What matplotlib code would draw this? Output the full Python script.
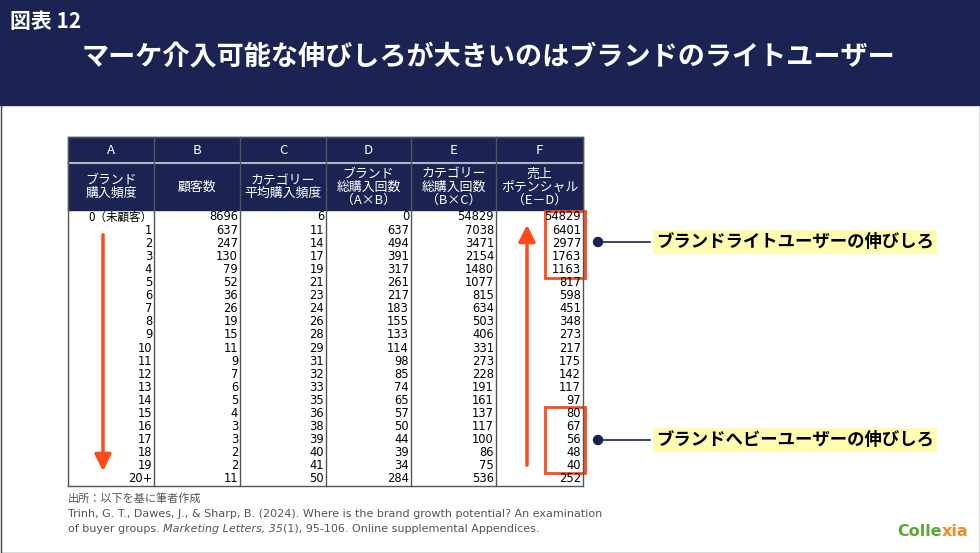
import matplotlib
matplotlib.use("Agg")
import matplotlib.pyplot as plt
from matplotlib.patches import Rectangle, Circle

plt.rcParams["font.family"] = "Noto Sans CJK JP"

col_letters = ["A", "B", "C", "D", "E", "F"]
col_headers = ["ブランド\n購入頻度", "顧客数", "カテゴリー\n平均購入頻度",
               "ブランド\n総購入回数\n（A×B）", "カテゴリー\n総購入回数\n（B×C）", "売上\nポテンシャル\n（E－D）"]
freq = ["0（未顧客）"] + [str(i) for i in range(1, 20)] + ["20+"]
customers = [8696, 637, 247, 130, 79, 52, 36, 26, 19, 15, 11, 9, 7, 6, 5, 4, 3, 3, 2, 2, 11]
cat_freq = [6, 11, 14, 17, 19, 21, 23, 24, 26, 28, 29, 31, 32, 33, 35, 36, 38, 39, 40, 41, 50]
brand_total = [0, 637, 494, 391, 317, 261, 217, 183, 155, 133, 114, 98, 85, 74, 65, 57, 50, 44, 39, 34, 284]
cat_total = [54829, 7038, 3471, 2154, 1480, 1077, 815, 634, 503, 406, 331, 273, 228, 191, 161, 137, 117, 100, 86, 75, 536]
potential = [54829, 6401, 2977, 1763, 1163, 817, 598, 451, 348, 273, 217, 175, 142, 117, 97, 80, 67, 56, 48, 40, 252]

title_tag = "図表 12"
title = "マーケ介入可能な伸びしろが大きいのはブランドのライトユーザー"
callouts = ["ブランドライトユーザーの伸びしろ", "ブランドへビーユーザーの伸びしろ"]

NAVY = "#1b2352"
RED = "#ff4a1c"
fig = plt.figure(figsize=(9.8, 5.53), dpi=100)
ax = fig.add_axes([0, 0, 1, 1])
ax.set_xlim(0, 980); ax.set_ylim(553, 0); ax.axis("off")

ax.add_patch(Rectangle((0.5, 0.5), 979, 552, fill=False, ec="#444444", lw=1))
ax.add_patch(Rectangle((0, 0), 980, 105, color=NAVY))
ax.text(10, 22, title_tag, color="white", fontsize=15, fontweight="bold", va="center")
ax.text(488, 57, title, color="white", fontsize=19.5, fontweight="bold", va="center", ha="center")

xs = [68, 154, 240, 326, 411, 496, 583]
ax.add_patch(Rectangle((xs[0], 137), xs[-1]-xs[0], 73, color=NAVY))
ax.plot([xs[0], xs[-1]], [163, 163], color="#b0b4c4", lw=1.5)
for i in range(6):
    cx = (xs[i]+xs[i+1])/2
    ax.text(cx, 151, col_letters[i], color="white", fontsize=9.5, ha="center", va="center")
    ax.text(cx, 187, col_headers[i], color="white", fontsize=9.3, ha="center", va="center", linespacing=1.0)
for x in xs:
    ax.plot([x, x], [137, 486], color="#555555", lw=1)
ax.plot([xs[0], xs[-1]], [486, 486], color="#555555", lw=1)
ax.plot([xs[0], xs[-1]], [137, 137], color="#555555", lw=1)

y0, dy = 217, 13.1
cols = [freq, customers, cat_freq, brand_total, cat_total, potential]
for r in range(len(freq)):
    y = y0 + r*dy
    for c in range(6):
        ax.text(xs[c+1]-2, y, str(cols[c][r]), fontsize=8.3, ha="right", va="center",
                fontfamily="DejaVu Sans" if c > 0 or r > 0 else "Noto Sans CJK JP")

ax.annotate("", xy=(103, 474), xytext=(103, 232),
            arrowprops=dict(arrowstyle="-|>,head_width=0.5,head_length=1.0", color=RED, lw=2.5))
ax.annotate("", xy=(527, 222), xytext=(527, 468),
            arrowprops=dict(arrowstyle="-|>,head_width=0.5,head_length=1.0", color=RED, lw=2.5))
ax.add_patch(Rectangle((545, 211), 40, 67, fill=False, ec=RED, lw=2))
ax.add_patch(Rectangle((545, 407), 40, 66, fill=False, ec=RED, lw=2))

for yc, txt in zip([242, 440], callouts):
    ax.add_patch(Circle((598, yc), 4.5, color=NAVY))
    ax.plot([598, 650], [yc, yc], color=NAVY, lw=1.2)
    ax.text(656, yc, txt, fontsize=12.5, fontweight="bold", va="center",
            bbox=dict(boxstyle="square,pad=0.15", fc="#fffbb0", ec="none"))

fs = 8
ax.text(68, 498, "出所：以下を基に筆者作成", fontsize=fs, color="#555555", va="center")
ax.text(68, 514, "Trinh, G. T., Dawes, J., & Sharp, B. (2024). Where is the brand growth potential? An examination",
        fontsize=fs, color="#555555", va="center", fontfamily="DejaVu Sans")
t1 = ax.text(68, 529, "of buyer groups. ", fontsize=fs, color="#555555", va="center", fontfamily="DejaVu Sans")
t2 = ax.annotate("Marketing Letters, 35", xy=(1, 0), xycoords=t1, va="bottom", fontsize=fs,
                 color="#555555", style="italic", fontfamily="DejaVu Sans")
ax.annotate("(1), 95-106. Online supplemental Appendices.", xy=(1, 0), xycoords=t2, va="bottom",
            fontsize=fs, color="#555555", fontfamily="DejaVu Sans")

l1 = ax.text(897, 531, "Colle", fontsize=11.5, fontweight="bold", color="#5aa832", va="center",
             fontfamily="DejaVu Sans")
ax.annotate("xia", xy=(1, 0), xycoords=l1, va="bottom", fontsize=11.5, fontweight="bold",
            color="#f08a24", fontfamily="DejaVu Sans")

fig.savefig("out.png", dpi=100)
